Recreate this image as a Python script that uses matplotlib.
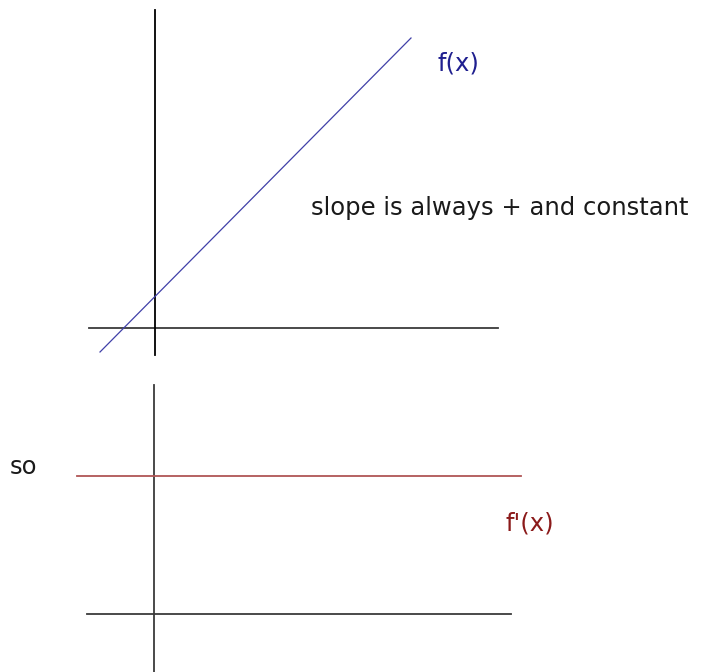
import matplotlib
matplotlib.use("Agg")
import matplotlib.pyplot as plt  # noqa: E402

# sketch space: pixel-like units, y grows downwards
top_axis_x = [89, 498]        # horizontal axis of upper sketch
top_axis_y = 328
top_vert_x = 155
top_vert_y = [10, 355]

f_x = [100, 411]               # f(x) straight line
f_y = [352, 38]

bot_axis_x = [87, 511]
bot_axis_y = 614
bot_vert_x = 154
bot_vert_y = [385, 672]

fp_x = [77, 521]               # f'(x) constant
fp_y = 476

AXIS_COLOR = "#3a3a3a"
FS = 17.5

fig = plt.figure(figsize=(7.2, 6.72), dpi=100)
ax = fig.add_axes([0, 0, 1, 1])
ax.set_xlim(0, 720)
ax.set_ylim(672, 0)
ax.axis("off")

# upper sketch
ax.plot(top_axis_x, [top_axis_y, top_axis_y], color=AXIS_COLOR, lw=1.3)
ax.plot([top_vert_x, top_vert_x], top_vert_y, color="black", lw=1.3)
ax.plot(f_x, f_y, color="#4040a8", lw=0.9)
ax.text(437, 63, "f(x)", color="#1f1f8f", fontsize=FS, va="center", ha="left")
ax.text(311, 208, "slope is always + and constant", color="#1a1a1a",
        fontsize=FS, va="center", ha="left")

# lower sketch
ax.plot(bot_axis_x, [bot_axis_y, bot_axis_y], color=AXIS_COLOR, lw=1.3)
ax.plot([bot_vert_x, bot_vert_x], bot_vert_y, color=AXIS_COLOR, lw=1.3)
ax.plot(fp_x, [fp_y, fp_y], color="#b05555", lw=1.3)
ax.text(10, 467, "so", color="#1a1a1a", fontsize=FS, va="center", ha="left")
ax.text(505, 523, "f'(x)", color="#8b1a1a", fontsize=FS, va="center", ha="left")

fig.savefig("out.png", dpi=100)
plt.close(fig)
